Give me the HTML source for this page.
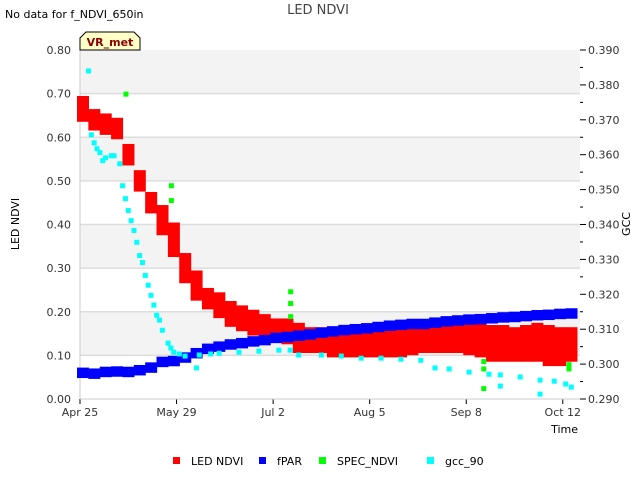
<!DOCTYPE html>
<html><head><meta charset="utf-8"><style>
body{margin:0;background:#fff;font-family:"DejaVu Sans","Liberation Sans",sans-serif;}
svg text{font-family:"DejaVu Sans","Liberation Sans",sans-serif;}
</style></head><body>
<svg id="chart" width="640" height="480" xmlns="http://www.w3.org/2000/svg">
<text x="5" y="18" font-size="11" fill="#000">No data for f_NDVI_650in</text>
<text x="318" y="14" font-size="13" fill="#444" text-anchor="middle">LED NDVI</text>
<text transform="translate(19,224) rotate(-90)" font-size="11" text-anchor="middle">LED NDVI</text>
<text transform="translate(630,224) rotate(-90)" font-size="11" text-anchor="middle">GCC</text>
<text x="578" y="433" font-size="11" text-anchor="end">Time</text>
<g id="plot"></g>
</svg>
<script>
const days=[0,4,8,12,16,20,24,28,32,36,40,44,48,52,56,60,64,68,72,76,80,84,88,92,96,100,104,108,112,116,120,124,128,132,136,140,144,148,152,156,160,164,168,172];
const ledLo=[.64,.62,.61,.60,.54,.48,.43,.38,.33,.27,.23,.21,.19,.17,.16,.15,.15,.14,.13,.11,.11,.11,.10,.10,.10,.10,.10,.10,.10,.105,.11,.11,.11,.11,.105,.10,.09,.09,.09,.09,.09,.08,.08,.09];
const ledHi=[.69,.66,.65,.64,.58,.52,.47,.44,.40,.33,.29,.25,.24,.22,.21,.20,.19,.18,.18,.17,.16,.16,.15,.15,.15,.155,.155,.155,.16,.16,.16,.165,.165,.165,.17,.17,.165,.165,.16,.165,.17,.165,.16,.16];
const fpar=[.06,.058,.062,.063,.062,.066,.072,.085,.087,.095,.105,.115,.12,.125,.128,.132,.135,.14,.142,.145,.148,.152,.155,.158,.16,.162,.165,.168,.17,.172,.172,.175,.178,.18,.182,.183,.185,.187,.188,.19,.192,.193,.195,.196];
const gccDays=[3,4,5,6,7,8,9,11,12,14,15,16,17,18,19,20,21,22,23,24,25,26,27,28,29,31,32,33,35,37,41,42,46,49,56,63,70,74,77,85,92,99,106,113,120,125,130,137,144,148,148,155,162,162,167,171,173];
const gccVals=[.384,.3657,.3634,.3617,.3606,.3583,.3591,.3597,.3597,.3574,.3511,.3474,.344,.3411,.3383,.3349,.3311,.3291,.3254,.3226,.3197,.3169,.314,.3126,.3097,.306,.3046,.3034,.3029,.3023,.2989,.3026,.3029,.3031,.3034,.3037,.304,.304,.3026,.3026,.3023,.3017,.3017,.3014,.3011,.2989,.2986,.2977,.2971,.2969,.2937,.2963,.2954,.2914,.2951,.2943,.2934];
const specDays=[16,32,32,74,74,74,142,142,142,172,172];
const specVals=[.70,.49,.456,.247,.22,.19,.087,.07,.025,.08,.07];
const xTickDays=[0,34,68,102,136,170];
const xTickLabels=["Apr 25","May 29","Jul 2","Aug 5","Sep 8","Oct 12"];
const yTicks=[0,.1,.2,.3,.4,.5,.6,.7,.8];
const y2Ticks=[.29,.30,.31,.32,.33,.34,.35,.36,.37,.38,.39];

const X0=80,X1=580,Y0=399,Y1=50;
const xs=d=>X0+d*2.84;
const ys=v=>Y0-(v/0.8)*(Y0-Y1);
const y2s=v=>Y0-((v-.29)/.10)*(Y0-Y1);
const NS="http://www.w3.org/2000/svg";
const g=document.getElementById('plot');
function mk(t,a,p){const e=document.createElementNS(NS,t);for(const k in a)e.setAttribute(k,a[k]);(p||g).appendChild(e);return e;}

// bands
for(let i=0;i<8;i++){
  const r=mk('rect',{x:X0,y:ys(yTicks[i+1]),width:X1-X0,height:ys(yTicks[i])-ys(yTicks[i+1]),fill:i%2? '#f3f3f3':'#fff'});
  
  
}
yTicks.forEach((v,i)=>{
  if(i>0&&i<8){const l=mk('line',{x1:X0,x2:X1,y1:ys(v),y2:ys(v),stroke:'#ddd','stroke-width':1.5});
  }
  const t=mk('text',{x:X0-9,y:ys(v)+4,'font-size':11,'text-anchor':'end',fill:'#333'});t.textContent=v.toFixed(2);
  
});
y2Ticks.forEach((v,i)=>{
  mk('line',{x1:X1,x2:X1+6,y1:y2s(v),y2:y2s(v),stroke:'#000'});
  if(i<y2Ticks.length-1) mk('line',{x1:X1,x2:X1+3,y1:y2s(v+.005),y2:y2s(v+.005),stroke:'#000'});
  const t=mk('text',{x:X1+8,y:y2s(v)+4,'font-size':11,fill:'#333'});t.textContent=v.toFixed(3);
  
});
xTickDays.forEach((d,i)=>{
  mk('line',{x1:xs(d),x2:xs(d),y1:Y0,y2:Y0+5,stroke:'#000'});
  const t=mk('text',{x:xs(d),y:Y0+17,'font-size':11,'text-anchor':'middle',fill:'#333'});t.textContent=xTickLabels[i];
  
});
mk('line',{x1:X0,x2:X0,y1:Y1,y2:Y0,stroke:'#ccc'});
mk('line',{x1:X0,x2:X1,y1:Y0,y2:Y0,stroke:'#ccc'});

// LED NDVI band
days.forEach((d,i)=>{
  const r=mk('rect',{x:xs(d)-3,y:ys(ledHi[i])-2,width:12,height:ys(ledLo[i])-ys(ledHi[i])+4,fill:'#f00'});
  
});
days.forEach((d,i)=>{
  const r=mk('rect',{x:xs(d)-3,y:ys(fpar[i]+.012),width:12,height:ys(fpar[i]-.012)-ys(fpar[i]+.012),fill:'#00f'});
  
});
specDays.forEach((d,i)=>{
  const r=mk('rect',{x:xs(d)-2,y:ys(specVals[i])-2,width:5,height:5,fill:'#0f0'});
  
});
gccDays.forEach((d,i)=>{
  const r=mk('rect',{x:xs(d)-2.5,y:y2s(gccVals[i])-2.5,width:5,height:5,fill:'#0ff'});
  
});

// VR_met label
const b=mk('path',{d:'M80,50 L80,38 L86,32 L134,32 L140,38 L140,50 Z',fill:'#ffffc8',stroke:'#000','stroke-width':1});

const bt=mk('text',{x:110,y:46,'font-size':11,'font-weight':'bold','text-anchor':'middle',fill:'#8b0000'});bt.textContent='VR_met';


// legend
const leg=[['LED NDVI','#f00',173],['fPAR','#00f',259],['SPEC_NDVI','#0f0',319],['gcc_90','#0ff',427]];
leg.forEach(l=>{
  const r=mk('rect',{x:l[2],y:457,width:7,height:7,fill:l[1]});
  
  const t=mk('text',{x:l[2]+18,y:465,'font-size':11});t.textContent=l[0];
  
});
</script>
</body></html>
